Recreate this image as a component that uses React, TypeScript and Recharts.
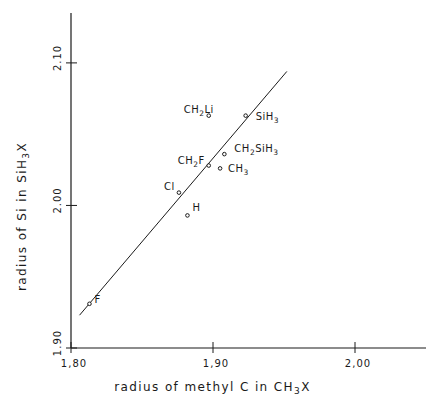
import React from "react";
import { ScatterChart, Scatter, XAxis, YAxis, Label } from "recharts";

// values
const substituents = ["F", "Cl", "H", "CH2F", "CH3", "CH2SiH3", "SiH3", "CH2Li"];
const methylRadius = [1.813, 1.876, 1.882, 1.897, 1.905, 1.908, 1.923, 1.897];
const siliconRadius = [1.931, 2.009, 1.993, 2.028, 2.026, 2.036, 2.063, 2.063];
const fitX = [1.806, 1.952];
const fitY = [1.923, 2.094];
const xTicks = [1.8, 1.9, 2.0];
const xTickLabels = ["1,80", "1,90", "2,00"];
const yTicks = [1.9, 2.0, 2.1];
const yTickLabels = ["1.90", "2.00", "2.10"];

// where each label sits relative to its point (px)
const labelOffset: Record<string, [number, number]> = {
  F: [5, -1],
  Cl: [-15, -3],
  H: [5, -4],
  CH2F: [-31, -2],
  CH3: [8, 4],
  CH2SiH3: [10, -2],
  SiH3: [10, 4],
  CH2Li: [-25, -3],
};

const points = substituents.map((name, i) => ({
  name,
  x: methylRadius[i],
  y: siliconRadius[i],
}));
const fit = fitX.map((x, i) => ({ x, y: fitY[i] }));

const ink = "#1a1a1a";
const font = "'DejaVu Sans', sans-serif";

function Chem({ text }: { text: string }) {
  const parts = text.split(/(\d)/).filter(Boolean);
  let shifted = false;
  return (
    <>
      {parts.map((p, i) => {
        if (/\d/.test(p)) {
          const el = (
            <tspan key={i} fontSize="0.75em" dy={shifted ? 0 : 3}>
              {p}
            </tspan>
          );
          shifted = true;
          return el;
        }
        const el = (
          <tspan key={i} dy={shifted ? -3 : 0}>
            {p}
          </tspan>
        );
        shifted = false;
        return el;
      })}
    </>
  );
}

function PointMark(props: any) {
  const { cx, cy, payload } = props;
  const [dx, dy] = labelOffset[payload.name] || [5, 0];
  return (
    <g>
      <circle cx={cx} cy={cy} r={1.8} fill="#fff" stroke={ink} strokeWidth={1} />
      <text x={cx + dx} y={cy + dy} fontSize={10} fontFamily={font} fill={ink} letterSpacing={0.5}>
        <Chem text={payload.name} />
      </text>
    </g>
  );
}

function XTick(props: any) {
  const { x, y, payload } = props;
  const idx = xTicks.findIndex((t) => Math.abs(t - payload.value) < 1e-6);
  return (
    <g>
      <line x1={x} x2={x} y1={y - 6} y2={y + 5} stroke={ink} strokeWidth={1} />
      <text x={x + 3} y={y + 19} textAnchor="middle" fontSize={10} fontFamily={font} fill={ink} letterSpacing={1}>
        {xTickLabels[idx]}
      </text>
    </g>
  );
}

function YTick(props: any) {
  const { x, y, payload } = props;
  const idx = yTicks.findIndex((t) => Math.abs(t - payload.value) < 1e-6);
  const tx = x - 10;
  const ty = y - 5;
  return (
    <g>
      <line x1={x - 5} x2={x + 6} y1={y} y2={y} stroke={ink} strokeWidth={1} />
      <text
        x={tx}
        y={ty}
        transform={`rotate(-90 ${tx} ${ty})`}
        textAnchor="middle"
        fontSize={10}
        fontFamily={font}
        fill={ink}
        letterSpacing={1}
      >
        {yTickLabels[idx]}
      </text>
    </g>
  );
}

function XTitle(props: any) {
  const { x, y, width } = props.viewBox;
  return (
    <text x={x + width / 2 - 36} y={y + 43} textAnchor="middle" fontSize={12} fontFamily={font} fill={ink} letterSpacing={1.4}>
      <Chem text="radius of methyl C in CH3X" />
    </text>
  );
}

function YTitle(props: any) {
  const { y, height } = props.viewBox;
  const tx = 26;
  const ty = y + height / 2 + 36;
  return (
    <text
      x={tx}
      y={ty}
      transform={`rotate(-90 ${tx} ${ty})`}
      textAnchor="middle"
      fontSize={12}
      fontFamily={font}
      fill={ink}
      letterSpacing={1.4}
    >
      <Chem text="radius of Si in SiH3X" />
    </text>
  );
}

export default function App() {
  return (
    <div style={{ position: "absolute", left: 0, top: 0, width: 429, height: 408, background: "#fff" }}>
      <ScatterChart width={429} height={408} margin={{ top: 13, right: 3, bottom: 0, left: 0 }}>
        <XAxis
          type="number"
          dataKey="x"
          domain={[1.8, 2.05]}
          ticks={xTicks}
          allowDataOverflow
          height={60}
          tickSize={0}
          tickMargin={0}
          tickLine={false}
          axisLine={{ stroke: ink, strokeWidth: 1.2 }}
          tick={<XTick />}
        >
          <Label content={<XTitle />} />
        </XAxis>
        <YAxis
          type="number"
          dataKey="y"
          domain={[1.9, 2.135]}
          ticks={yTicks}
          allowDataOverflow
          width={71}
          tickSize={0}
          tickMargin={0}
          tickLine={false}
          axisLine={{ stroke: ink, strokeWidth: 1.2 }}
          tick={<YTick />}
        >
          <Label content={<YTitle />} />
        </YAxis>
        <Scatter
          data={fit}
          line={{ stroke: ink, strokeWidth: 1 }}
          shape={() => <g />}
          isAnimationActive={false}
        />
        <Scatter data={points} shape={<PointMark />} isAnimationActive={false} />
      </ScatterChart>
    </div>
  );
}
